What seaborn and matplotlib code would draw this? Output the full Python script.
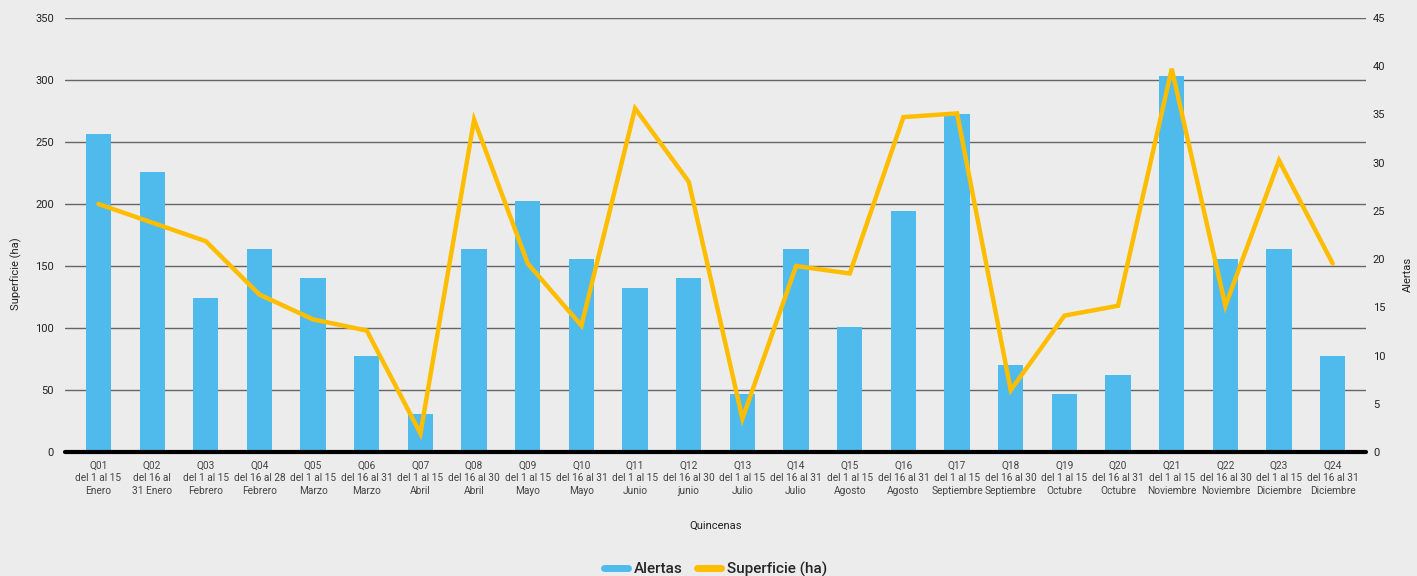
import numpy as np
import pandas as pd
import matplotlib
matplotlib.use("Agg")
import matplotlib.pyplot as plt
import seaborn as sns
from matplotlib.lines import Line2D

# Datos
codigos = ["Q01", "Q02", "Q03", "Q04", "Q05", "Q06", "Q07", "Q08", "Q09", "Q10", "Q11", "Q12",
           "Q13", "Q14", "Q15", "Q16", "Q17", "Q18", "Q19", "Q20", "Q21", "Q22", "Q23", "Q24"]
rangos = ["del 1 al 15", "del 16 al", "del 1 al 15", "del 16 al 28", "del 1 al 15", "del 16 al 31",
          "del 1 al 15", "del 16 al 30", "del 1 al 15", "del 16 al 31", "del 1 al 15", "del 16 al 30",
          "del 1 al 15", "del 16 al 31", "del 1 al 15", "del 16 al 31", "del 1 al 15", "del 16 al 30",
          "del 1 al 15", "del 16 al 31", "del 1 al 15", "del 16 al 30", "del 1 al 15", "del 16 al 31"]
meses = ["Enero", "31 Enero", "Febrero", "Febrero", "Marzo", "Marzo", "Abril", "Abril", "Mayo", "Mayo",
         "Junio", "junio", "Julio", "Julio", "Agosto", "Agosto", "Septiembre", "Septiembre",
         "Octubre", "Octubre", "Noviembre", "Noviembre", "Diciembre", "Diciembre"]
alertas = [33, 29, 16, 21, 18, 10, 4, 21, 26, 20, 17, 18, 6, 21, 13, 25, 35, 9, 6, 8, 39, 20, 21, 10]
superficie = [200, 185, 170, 127, 107, 98, 15, 268, 152, 102, 277, 218, 27, 150, 144, 270, 273, 50,
              110, 118, 309, 118, 235, 152]

etiquetas = [f"{c}\n{r}\n{m}" for c, r, m in zip(codigos, rangos, meses)]

df = pd.DataFrame({"quincena": etiquetas, "alertas": alertas, "superficie": superficie})

bg = "#ececec"
azul = "#4fbbec"
amarillo = "#ffbd00"

sns.set_theme(style="white")
plt.rcParams["font.family"] = ["Roboto", "DejaVu Sans"]

fig = plt.figure(figsize=(14.17, 5.76), dpi=100, facecolor=bg)
ax = fig.add_axes([0.046, 0.215, 0.918, 0.754])
ax.set_facecolor(bg)

# barras (Alertas, eje derecho)
sns.barplot(data=df, x="quincena", y="alertas", color=azul, saturation=1, width=0.47,
            edgecolor="none", linewidth=0, ax=ax, zorder=2)

# linea (Superficie, eje izquierdo)
ax2 = ax.twinx()
sns.lineplot(x=np.arange(len(superficie)), y=superficie, color=amarillo, linewidth=3.2, ax=ax2,
             zorder=3, solid_joinstyle="miter")

ax.set_ylim(0, 45)
ax.set_yticks(range(0, 46, 5))
ax.yaxis.tick_right()
ax.yaxis.set_label_position("right")
ax.set_ylabel("Alertas", fontsize=8, color="#222222")
ax.yaxis.set_label_coords(1.028, 0.41)
ax.set_xlabel("Quincenas", fontsize=8, color="#222222", labelpad=18)
ax.set_xlim(-0.62, 23.62)

ax2.yaxis.tick_left()
ax2.yaxis.set_label_position("left")
ax2.set_ylim(0, 350)
ax2.set_yticks(range(0, 351, 50))
ax2.set_ylabel("Superficie (ha)", fontsize=8, color="#222222")
ax2.yaxis.set_label_coords(-0.033, 0.41)
ax2.set_xlim(-0.62, 23.62)

# lineas de grilla dibujadas en ax (detras de las barras)
for v in range(50, 351, 50):
    ax.axhline(v * 45 / 350, color="#666666", linewidth=1.0, zorder=0)
ax.axhline(0, color="black", linewidth=3, zorder=4, clip_on=False)

for a in (ax, ax2):
    for s in a.spines.values():
        s.set_visible(False)
    a.tick_params(axis="y", length=0, labelsize=8, labelcolor="#222222")
ax.tick_params(axis="y", pad=5)
ax2.tick_params(axis="y", pad=8)
ax.tick_params(axis="x", length=0, labelsize=7.3, labelcolor="#444444", pad=6)
ax.set_xticks(range(len(etiquetas)))
ax.set_xticklabels(etiquetas, linespacing=1.35)

handles = [Line2D([0], [0], color=azul, linewidth=5, solid_capstyle="round"),
           Line2D([0], [0], color=amarillo, linewidth=5, solid_capstyle="round")]
fig.legend(handles, ["Alertas", "Superficie (ha)"], loc="lower center", bbox_to_anchor=(0.505, -0.025),
           ncol=2, frameon=False, handlelength=1.6, handletextpad=0.4, columnspacing=0.9,
           prop={"family": ["Roboto", "DejaVu Sans"], "weight": "medium", "size": 11})

fig.savefig("out.png", dpi=100, facecolor=bg)
